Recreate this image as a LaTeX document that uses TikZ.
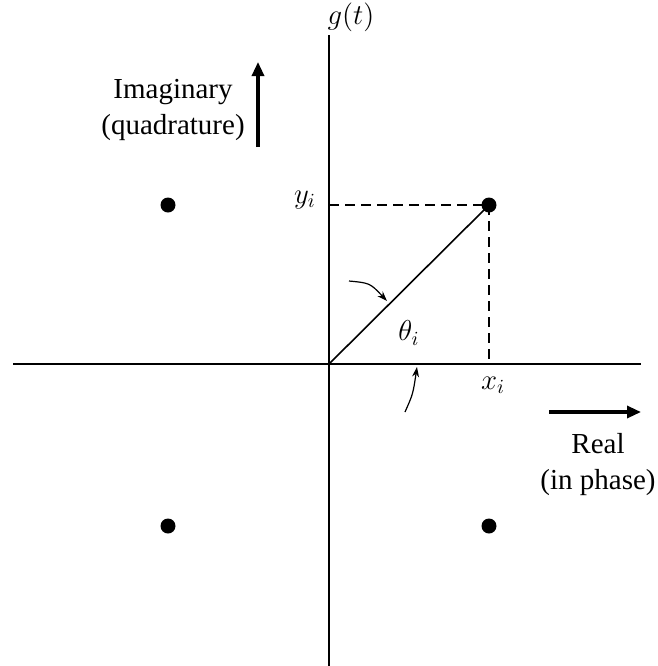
\documentclass[tikz,border=0pt]{standalone}
\usepackage{fontspec}
\setmainfont{Liberation Serif}
\usetikzlibrary{arrows.meta}
\begin{document}
\begin{tikzpicture}[
    x=0.5pt, y=-0.5pt,
    font=\fontsize{14.5}{18}\selectfont,
    axis/.style={line width=0.8pt},
    pt/.style={circle, fill=black, inner sep=0pt, minimum size=7.5pt},
    guide/.style={dashed, dash pattern=on 5pt off 3pt, line width=0.6pt},
    bigarrow/.style={-{Triangle[length=7pt,width=6pt]}, line width=1.6pt},
    small/.style={-{Stealth[length=5pt,width=3.5pt]}, line width=0.6pt}
]
    \useasboundingbox (0,0) rectangle (658,666);

    % axes
    \coordinate (O) at (329,364);
    \coordinate (xl) at (13,364);
    \coordinate (xr) at (641,364);
    \coordinate (yt) at (329,35);
    \coordinate (yb) at (329,666);
    \draw[axis] (xl) -- (xr);
    \draw[axis] (yt) -- (yb);
    \node (g) at (351,17) {$g(t)$};

    % signal points
    \node[pt] (s1) at (489,205) {};
    \node[pt] (s2) at (168,205) {};
    \node[pt] (s3) at (168,526) {};
    \node[pt] (s4) at (489,526) {};

    % projections of s1
    \coordinate (ys) at (329,205);
    \coordinate (xs) at (489,364);
    \draw[guide] (ys) -- (s1.center);
    \draw[guide] (s1.center) -- (xs);
    \draw[axis] (O) -- (s1.center);
    \node (yi) at (305,200) {$y_i$};
    \node (xi) at (493,385) {$x_i$};
    \node (th) at (409,333) {$\theta_i$};

    % angle markers
    \coordinate (a1) at (349,281);
    \coordinate (a2) at (387,301);
    \coordinate (b1) at (405,412);
    \coordinate (b2) at (417,367);
    \draw[small] (a1) .. controls (370,283) .. (a2);
    \draw[small] (b1) .. controls (413,394) .. (b2);

    % quadrature direction
    \node[align=center, inner sep=0pt] (imag) at (173,110) {Imaginary\\(quadrature)};
    \coordinate (ia) at (258,147);
    \coordinate (ib) at (258,62);
    \draw[bigarrow] (ia) -- (ib);

    % in-phase direction
    \node[align=center, inner sep=0pt] (real) at (598,465) {Real\\(in phase)};
    \coordinate (ra) at (549,412);
    \coordinate (rb) at (641,412);
    \draw[bigarrow] (ra) -- (rb);
\end{tikzpicture}
\end{document}
